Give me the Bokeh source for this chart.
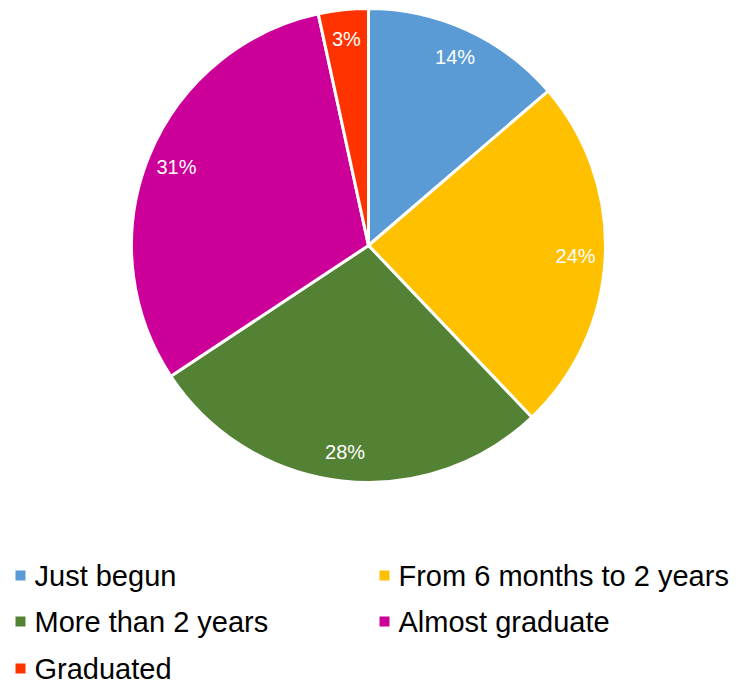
import numpy as np
from bokeh.plotting import figure
from bokeh.models import Range1d
from bokeh.core.properties import value
from bokeh.embed import file_html
from bokeh.resources import INLINE

categories = ["Just begun", "From 6 months to 2 years", "More than 2 years", "Almost graduate", "Graduated"]
shares = [13.7, 24.2, 27.8, 30.9, 3.4]
colors = ["#5B9BD5", "#FFC000", "#548235", "#CC0099", "#FF3300"]

W, H = 736, 683
p = figure(width=W, height=H, output_backend="svg", toolbar_location=None,
           x_range=Range1d(0, W), y_range=Range1d(0, H), min_border=0)
p.axis.visible = False
p.grid.visible = False
p.outline_line_color = None
p.background_fill_color = "white"

cx, cy, R = 368, H - 245, 237
vals = np.array(shares, dtype=float)
frac = vals / vals.sum()
cum = np.concatenate([[0], np.cumsum(frac)])
starts = np.pi / 2 - 2 * np.pi * cum[:-1]
ends = np.pi / 2 - 2 * np.pi * cum[1:]
p.wedge(x=cx, y=cy, radius=R, start_angle=starts, end_angle=ends, direction="clock",
        fill_color=colors, line_color="white", line_width=3)

mid = (starts + ends) / 2
lr = 0.875 * R
p.text(x=cx + lr * np.cos(mid), y=cy + lr * np.sin(mid),
       text=[f"{round(f * 100):.0f}%" for f in frac],
       text_color="white", text_font=value("Liberation Sans"), text_font_size="20px",
       text_align="center", text_baseline="middle")

# legend
col_x = [20, 384]
row_y = [H - 575, H - 621, H - 668]
lx, ly = [], []
for i in range(len(categories)):
    lx.append(col_x[i % 2])
    ly.append(row_y[i // 2])
lx = np.array(lx, dtype=float)
ly = np.array(ly, dtype=float)
p.rect(x=lx, y=ly, width=10, height=10, fill_color=colors, line_color=None)
p.text(x=lx + 14, y=ly, text=categories, text_color="black", text_font=value("Liberation Sans"),
       text_font_size="29px", text_align="left", text_baseline="middle")

open("out.html", "w").write(file_html(p, INLINE))
